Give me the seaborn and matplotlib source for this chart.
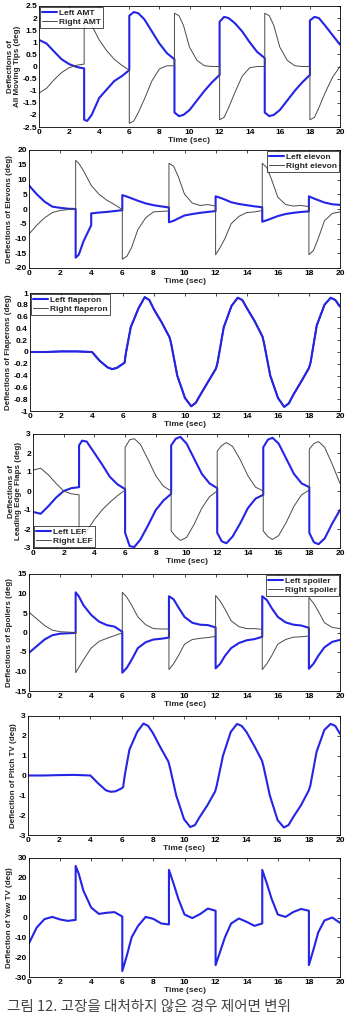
import numpy as np
import matplotlib
matplotlib.use('Agg')
import matplotlib.pyplot as plt
import seaborn as sb

# time grids (s), duplicated instants mark the switching jumps
t_seg = [0, 0.5, 1, 1.5, 2, 2.5, 3,
         3, 3.2, 3.5, 4, 4.5, 5, 5.5, 6,
         6, 6.3, 6.6, 7, 7.5, 8, 8.5, 9,
         9, 9.3, 9.6, 10, 10.5, 11, 11.5, 12,
         12, 12.3, 12.6, 13, 13.5, 14, 14.5, 15,
         15, 15.3, 15.6, 16, 16.5, 17, 17.5, 18,
         18, 18.3, 18.6, 19, 19.5, 20]
t_elev = [0, 0.5, 1, 1.5, 2, 2.5, 3,
          3, 3.2, 3.5, 4, 4, 4.5, 5, 5.5, 6,
          6, 6.3, 6.6, 7, 7.5, 8, 8.5, 9,
          9, 9.3, 9.6, 10, 10.5, 11, 11.5, 12,
          12, 12.3, 12.6, 13, 13.5, 14, 14.5, 15,
          15, 15.3, 15.6, 16, 16.5, 17, 17.5, 18,
          18, 18.3, 18.6, 19, 19.5, 20]
t_smooth = [0, 1, 2, 3, 4, 4.5, 5, 5.3, 5.6, 6, 6.1, 6.2, 6.5, 7, 7.4, 7.7, 8, 8.5,
            9, 9.1, 9.5, 10, 10.4, 10.7, 11, 11.5, 12, 12.1, 12.5, 13, 13.4, 13.7,
            14, 14.5, 15, 15.1, 15.5, 16, 16.4, 16.7, 17, 17.5, 18, 18.1, 18.5,
            19, 19.4, 19.7, 20]

amt_left = [1.1, 0.95, 0.62, 0.3, 0.1, -0.02, -0.08,
            -2.2, -2.25, -2.0, -1.3, -0.95, -0.6, -0.4, -0.15,
            2.1, 2.25, 2.2, 1.95, 1.45, 0.95, 0.55, 0.3,
            -1.9, -2.05, -2.0, -1.8, -1.4, -1.0, -0.65, -0.35,
            1.85, 2.05, 2.0, 1.8, 1.45, 1.0, 0.6, 0.35,
            -1.9, -2.05, -2.0, -1.8, -1.4, -1.0, -0.65, -0.35,
            1.9, 2.05, 2.0, 1.7, 1.3, 0.9]
amt_right = [-1.1, -0.9, -0.55, -0.25, -0.05, 0.05, 0.1,
             2.2, 2.1, 1.7, 1.1, 0.65, 0.3, 0.05, -0.15,
             -2.35, -2.25, -1.9, -1.35, -0.6, -0.1, 0.03, 0.03,
             2.2, 2.1, 1.7, 0.8, 0.25, 0.03, 0.0, 0.0,
             -2.2, -2.1, -1.7, -1.1, -0.4, -0.05, 0.0, 0.0,
             2.2, 2.1, 1.7, 0.8, 0.25, 0.03, 0.0, 0.0,
             -2.2, -2.1, -1.7, -1.1, -0.45, 0.0]

elev_left = [8, 5, 2.5, 0.8, 0.4, 0.1, 0,
             -16.5, -15.5, -11, -5.5, -1.5, -1.2, -1.0, -0.7, -0.4,
             4.7, 4.2, 3.6, 2.8, 1.9, 1.3, 0.9, 0.5,
             -4.5, -4.0, -3.2, -2.2, -1.7, -1.3, -1.0, -0.7,
             4.3, 3.8, 3.2, 2.3, 1.7, 1.3, 0.9, 0.6,
             -4.3, -3.8, -3.2, -2.4, -1.7, -1.3, -1.0, -0.8,
             4.3, 3.6, 3.0, 2.2, 1.6, 1.4]
elev_right = [-8.5, -5.5, -3, -1.2, -0.5, -0.2, 0,
              16.5, 15.5, 13, 8, 8, 5, 3, 1.5, -0.2,
              -17, -16, -13, -7, -3, -1, -0.8, -0.7,
              15.5, 14.5, 11, 5, 2, 1.2, 1.5, 1.0,
              -15.5, -13, -10, -5, -2.5, -1.2, -1.0, -0.5,
              15.5, 14, 10, 4, 1.5, 1.0, 1.2, 0.8,
              -15.5, -14, -10, -4, -1.5, -1.0]

flap_left = [0, 0, 0.01, 0.01, 0, -0.15, -0.26, -0.29, -0.27, -0.2, -0.18, 0.0, 0.42,
             0.74, 0.93, 0.88, 0.72, 0.5, 0.25, 0.15, -0.4, -0.78, -0.92, -0.86,
             -0.72, -0.5, -0.28, -0.18, 0.42, 0.78, 0.92, 0.88, 0.74, 0.52, 0.26,
             0.15, -0.4, -0.78, -0.93, -0.87, -0.72, -0.5, -0.27, -0.18, 0.45,
             0.8, 0.92, 0.88, 0.77]
flap_right = [0, 0, 0.01, 0.01, 0, -0.15, -0.26, -0.29, -0.27, -0.2, -0.18, 0.0, 0.42,
              0.74, 0.93, 0.88, 0.72, 0.5, 0.25, 0.15, -0.4, -0.78, -0.92, -0.86,
              -0.72, -0.5, -0.28, -0.18, 0.42, 0.78, 0.92, 0.88, 0.74, 0.52, 0.26,
              0.15, -0.4, -0.78, -0.93, -0.87, -0.72, -0.5, -0.27, -0.18, 0.45,
              0.8, 0.92, 0.88, 0.77]

lef_left = [-1.1, -1.2, -0.8, -0.35, 0.0, 0.15, 0.2,
            2.4, 2.65, 2.6, 2.0, 1.4, 0.75, 0.35, 0.1,
            -2.2, -2.9, -2.95, -2.55, -1.8, -1.0, -0.5, -0.15,
            2.4, 2.75, 2.85, 2.5, 1.7, 0.9, 0.4, 0.15,
            -2.2, -2.65, -2.75, -2.4, -1.7, -0.9, -0.4, -0.2,
            2.3, 2.7, 2.8, 2.5, 1.7, 0.9, 0.4, 0.2,
            -2.2, -2.7, -2.8, -2.5, -1.7, -1.0]
lef_right = [1.1, 1.2, 0.85, 0.4, 0.0, -0.15, -0.2,
             -2.6, -2.5, -2.1, -1.5, -1.0, -0.6, -0.25, 0.05,
             2.3, 2.7, 2.75, 2.45, 1.65, 0.8, 0.25, 0.0,
             -2.1, -2.4, -2.6, -2.45, -1.75, -0.9, -0.3, 0.0,
             2.1, 2.4, 2.55, 2.35, 1.65, 0.8, 0.2, 0.0,
             -2.1, -2.4, -2.55, -2.35, -1.65, -0.8, -0.2, 0.05,
             2.2, 2.5, 2.6, 2.3, 1.4, 0.4]

spoil_left = [-5.2, -3.5, -1.8, -0.7, -0.3, -0.2, -0.1,
              10.3, 9.3, 7, 4.5, 2.8, 1.9, 1.5, 0.2,
              -10.3, -9, -7, -4, -2.5, -1.8, -1.6, -1.3,
              9.3, 8.5, 6.5, 4, 2.5, 2.0, 1.9, 1.3,
              -9.2, -8, -6, -4, -2.7, -2.0, -1.7, -1.1,
              9.3, 8.3, 6.3, 4, 2.6, 2.0, 1.8, 1.2,
              -9.3, -8, -6, -3.8, -2.4, -1.9]
spoil_right = [5.2, 3.5, 1.8, 0.6, 0.2, 0.1, 0.0,
               -10.3, -9, -7, -4, -2.3, -1.5, -0.8, -0.1,
               10.3, 9, 7, 4, 2, 1, 0.9, 0.9,
               -9.5, -8, -6, -3, -1.8, -1.5, -1.3, -1.0,
               9.5, 8, 6, 3, 1.5, 1, 1.0, 0.8,
               -9.5, -8, -6, -3, -1.8, -1.2, -1.1, -0.9,
               9, 7.5, 5.5, 2.5, 1.3, 1.0]

pitch_tv = [0, 0, 0.02, 0.03, 0, -0.4, -0.75, -0.82, -0.8, -0.65, -0.58, 0.0, 1.3,
            2.2, 2.62, 2.5, 2.15, 1.4, 0.7, 0.4, -1.0, -2.2, -2.6, -2.5, -2.1,
            -1.5, -0.8, -0.5, 1.0, 2.2, 2.6, 2.5, 2.2, 1.5, 0.75, 0.45, -1.0,
            -2.25, -2.62, -2.5, -2.1, -1.5, -0.75, -0.5, 1.2, 2.3, 2.6, 2.5, 2.1]

yaw_tv = [-13, -5, -0.8, 0.3, -1, -1.7, -1.2,
          26, 22, 13.5, 5, 1.8, 2.4, 2.7, 0.5,
          -27, -19, -10, -4.4, 0.3, -0.7, -3.0, -3.5,
          24, 17, 9.5, 1.5, -0.3, 1.7, 4.5, 3.4,
          -24, -17, -10, -3, -0.5, -2.2, -4.2, -3,
          24, 17, 9.5, 1.5, 0.3, 2.8, 4.3, 3.4,
          -24, -16, -7.5, -1.5, 0, -2.7]

caption = '그림 12. 고장을 대처하지 않은 경우 제어면 변위'

BLUE = '#2424e6'
GRAY = '#4a4a4a'

sb.set_style('white')
plt.rcParams['font.family'] = ['Liberation Sans', 'DejaVu Sans']
plt.rcParams['font.weight'] = 'bold'
plt.rcParams['axes.labelweight'] = 'bold'

W, H = 346, 1015
fig = plt.figure(figsize=(W / 100, H / 100), dpi=100)

# (left, top, bottom) in pixels, right edge at 340
boxes = [(39, 6, 127), (29, 150, 268), (30, 293, 411), (33, 434, 548),
         (29, 574, 691), (28, 716, 835), (29, 858, 977)]

panels = [
    (t_seg, amt_left, amt_right, 'Left AMT', 'Right AMT', 'upper left',
     (-2.5, 2.5), np.arange(-2.5, 2.51, 0.5), 'Deflections of\nAll Moving Tips (deg)'),
    (t_elev, elev_left, elev_right, 'Left elevon', 'Right elevon', 'upper right',
     (-20, 20), np.arange(-20, 21, 5), 'Deflections of Elevons (deg)'),
    (t_smooth, flap_left, flap_right, 'Left flaperon', 'Right flaperon', 'upper left',
     (-1, 1), np.arange(-1, 1.01, 0.2), 'Deflections of Flaperons (deg)'),
    (t_seg, lef_left, lef_right, 'Left LEF', 'Right LEF', 'lower left',
     (-3, 3), np.arange(-3, 3.1, 1), 'Deflections of\nLeading Edge Flaps (deg)'),
    (t_seg, spoil_left, spoil_right, 'Left spoiler', 'Right spoiler', 'upper right',
     (-15, 15), np.arange(-15, 16, 5), 'Deflections of Spoilers (deg)'),
    (t_smooth, pitch_tv, None, None, None, None,
     (-3, 3), np.arange(-3, 3.1, 1), 'Deflection of Pitch TV (deg)'),
    (t_seg, yaw_tv, None, None, None, None,
     (-30, 30), np.arange(-30, 31, 10), 'Deflection of Yaw TV (deg)'),
]


def fmt(v):
    s = f'{v:.1f}'.rstrip('0').rstrip('.')
    return '0' if s in ('-0', '') else s


for (l, top, bot), (t, left, right, ll, rl, loc, ylim, yt, ylab) in zip(boxes, panels):
    ax = fig.add_axes([l / W, 1 - bot / H, (340 - l) / W, (bot - top) / H])
    if right is not None:
        sb.lineplot(x=t, y=left, ax=ax, estimator=None, sort=False, color=BLUE,
                    lw=1.5, label=ll)
        sb.lineplot(x=t, y=right, ax=ax, estimator=None, sort=False, color=GRAY,
                    lw=0.7, label=rl)
        if ll == 'Left flaperon':
            sb.lineplot(x=t, y=left, ax=ax, estimator=None, sort=False, color=BLUE,
                        lw=1.2)
    else:
        sb.lineplot(x=t, y=left, ax=ax, estimator=None, sort=False, color=BLUE, lw=1.5)

    ax.set_xlim(0, 20)
    ax.set_ylim(*ylim)
    ax.set_xticks(np.arange(0, 21, 2))
    ax.set_yticks(yt)
    ax.set_yticklabels([fmt(v) for v in yt])
    ax.tick_params(direction='in', top=True, right=True, length=2.5, width=0.5,
                   labelsize=6, pad=1.5, colors='black')
    for sp in ax.spines.values():
        sp.set_color('black')
        sp.set_linewidth(0.6)
    ax.set_xlabel('Time (sec)', fontsize=6, fontweight='bold', labelpad=1)
    ax.set_ylabel(ylab, fontsize=5.8, fontweight='bold', labelpad=1, linespacing=1.0)
    if loc is not None:
        leg = ax.legend(loc=loc, fontsize=6, frameon=True, fancybox=False,
                        borderaxespad=0.1, handlelength=1.8, handletextpad=0.3,
                        borderpad=0.25, labelspacing=0.15)
        leg.get_frame().set_edgecolor('black')
        leg.get_frame().set_linewidth(0.6)
        for txt in leg.get_texts():
            txt.set_fontweight('bold')
    elif ax.get_legend() is not None:
        ax.get_legend().remove()

fig.text(7 / W, 1 - 1014 / H, caption, ha='left', va='bottom', fontsize=10.5,
         fontweight='normal', family=['Noto Sans CJK KR', 'DejaVu Sans'],
         color='#444444')

fig.savefig('out.png', dpi=100)
